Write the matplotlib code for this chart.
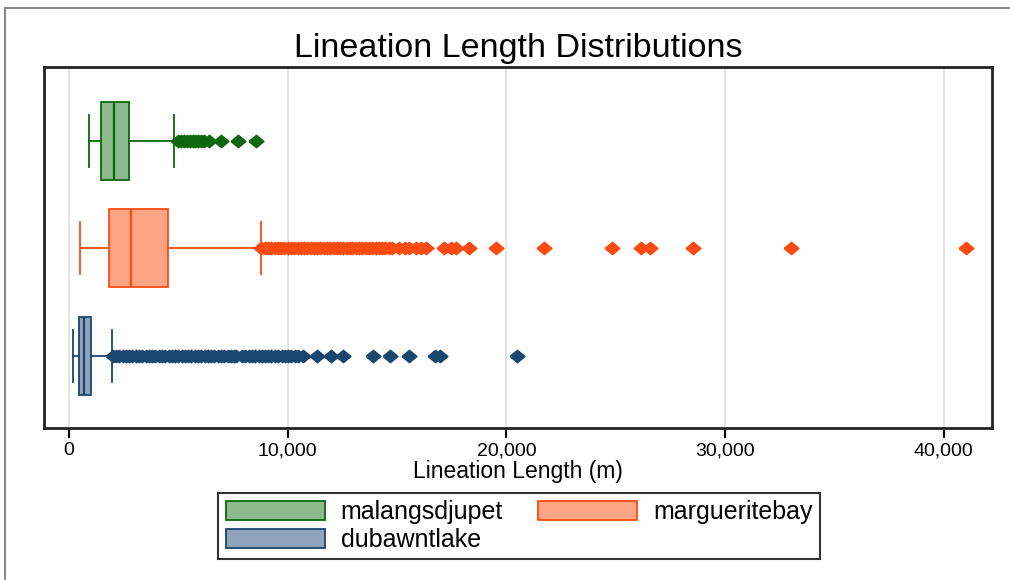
import matplotlib
matplotlib.use("Agg")
import matplotlib.pyplot as plt
from matplotlib.patches import Patch
from matplotlib.lines import Line2D
from matplotlib.ticker import FuncFormatter

plt.rcParams['font.family'] = ['Liberation Sans', 'DejaVu Sans']

# -- data (metres) --
groups = ["malangsdjupet", "margueritebay", "dubawntlake"]

# whisker low, Q1, median, Q3, whisker high
mal_stats = [900, 1466, 2060, 2759, 4801]
mar_stats = [507, 1846, 2836, 4509, 8776]
dub_stats = [196, 475, 672, 1014, 1960]

mal_fliers = [5000, 5130, 5260, 5390, 5520, 5650, 5780, 5910, 6040, 6180,
              6420, 6950, 7710, 8550]
mar_fliers = [8800, 8950, 9100, 9250, 9400, 9550, 9700, 9850, 10000, 10150,
              10300, 10450, 10600, 10750, 10900, 11050, 11200, 11350, 11500, 11650,
              11800, 11950, 12100, 12250, 12400, 12550, 12700, 12850, 12950,
              13120, 13270, 13420, 13570, 13720, 13870, 14020, 14170, 14320, 14470,
              14620, 14770,
              15090, 15350, 15550, 15860, 16100, 16310,
              17160, 17450, 17720, 18290, 19550, 21700, 24830,
              26140, 26550, 28520, 33010, 41020]
dub_fliers = [2000, 2150, 2300, 2450, 2600, 2750, 2900, 3050, 3200, 3350,
              3500, 3650, 3800, 3950, 4100, 4250, 4400, 4550, 4700, 4850,
              5000, 5150, 5300, 5450, 5600, 5750, 5900, 6050, 6200, 6350,
              6500, 6650, 6800, 6950, 7100, 7250, 7400, 7550, 7620,
              7920, 8070, 8220, 8370, 8520, 8670, 8820, 8970, 9120, 9250,
              9420, 9570, 9720, 9870, 10020, 10170, 10320, 10475,
              10720, 11340, 11990, 12550, 13900, 14680, 15570, 16720, 16950, 20510]

xticks = [0, 10000, 20000, 30000, 40000]

# colours: edge / fill
edge_cols = ["#0d680d", "#ff4a12", "#1a476f"]
fill_cols = ["#8dba8d", "#ffa584", "#8fa3ba"]
positions = [0.795, 0.50, 0.20]

# slightly flattened diamond like the Stata marker
diamond = [(-1, 0), (0, 0.83), (1, 0), (0, -0.83), (-1, 0)]

fig = plt.figure(figsize=(10.1, 5.8), dpi=100)
ax = fig.add_axes([0.0436, 0.2616, 0.9383, 0.6224])

all_stats = [mal_stats, mar_stats, dub_stats]
all_fliers = [mal_fliers, mar_fliers, dub_fliers]

for name, st, fl, ec, fc, pos in zip(groups, all_stats, all_fliers, edge_cols, fill_cols, positions):
    stat = dict(label=name, whislo=st[0], q1=st[1], med=st[2], q3=st[3], whishi=st[4], fliers=fl)
    ax.bxp([stat], positions=[pos], widths=0.215, capwidths=0.145, vert=False,
           patch_artist=True, showfliers=True,
           boxprops=dict(facecolor=fc, edgecolor=ec, linewidth=1.3),
           medianprops=dict(color=ec, linewidth=1.6),
           whiskerprops=dict(color=ec, linewidth=1.3),
           capprops=dict(color=ec, linewidth=1.3),
           flierprops=dict(marker=diamond, markersize=10.5, markerfacecolor=ec,
                           markeredgecolor=ec, markeredgewidth=1.2, linestyle='none'))

ax.set_ylim(0, 1)
ax.set_xlim(-1144, 42200)
ax.set_yticks([])
ax.set_xticks(xticks)
ax.xaxis.set_major_formatter(FuncFormatter(lambda v, p: f"{int(v):,}"))
ax.tick_params(axis='x', length=7, width=1.5, labelsize=14, pad=3, colors='black')
ax.grid(axis='x', color='#e2e2e2', linewidth=1.3)
ax.set_axisbelow(True)
for sp in ax.spines.values():
    sp.set_linewidth(2)
    sp.set_color('#222222')

ax.set_xlabel("Lineation Length (m)", fontsize=16.5, labelpad=0.5)
fig.text(0.513, 0.916, "Lineation Length Distributions", fontsize=24.5,
         ha='center', va='center')

handles = [Patch(facecolor=fill_cols[0], edgecolor=edge_cols[0], linewidth=1.3, label=groups[0]),
           Patch(facecolor=fill_cols[2], edgecolor=edge_cols[2], linewidth=1.3, label=groups[2]),
           Patch(facecolor=fill_cols[1], edgecolor=edge_cols[1], linewidth=1.3, label=groups[1])]
leg = fig.legend(handles=handles, ncol=2, loc='center', bbox_to_anchor=(0.514, 0.093),
                 fontsize=18, frameon=True, fancybox=False, edgecolor='black',
                 handlelength=3.95, handleheight=0.8, handletextpad=0.65,
                 columnspacing=1.4, labelspacing=0.15, borderpad=0.3, borderaxespad=0)
leg.get_frame().set_linewidth(1.5)

# outer screenshot border (top and left)
fig.add_artist(Line2D([5 / 1010, 1], [1 - 8 / 580, 1 - 8 / 580], color='#8a8a8a', linewidth=1.5))
fig.add_artist(Line2D([5 / 1010, 5 / 1010], [0, 1 - 8 / 580], color='#8a8a8a', linewidth=1.5))

fig.savefig("out.png", dpi=100)
